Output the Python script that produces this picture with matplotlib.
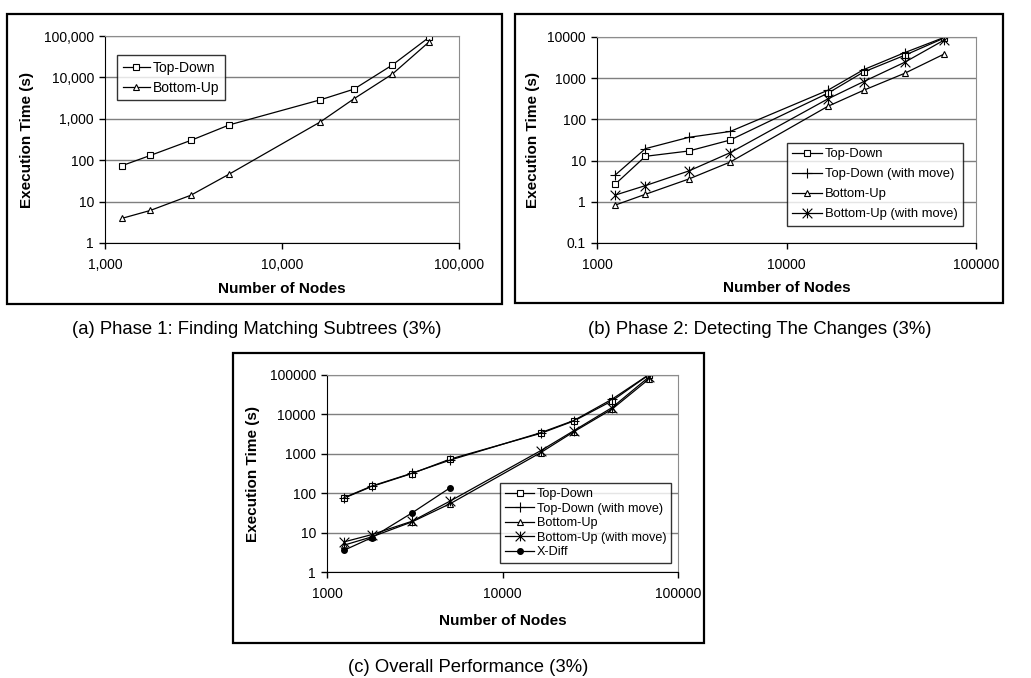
import numpy as np
import matplotlib
matplotlib.use('Agg')
import matplotlib.pyplot as plt
from matplotlib.path import Path
from matplotlib.patches import Rectangle

plt.rcParams['font.family'] = ['Liberation Sans', 'DejaVu Sans']

# data
nodes = [1250, 1800, 3050, 5050, 16500, 25500, 42000, 68000]

# (a) phase 1
p1_top_down = [74, 130, 300, 715, 2880, 5200, 19900, 94000]
p1_bottom_up = [3.95, 6.1, 14.2, 46.5, 846, 3050, 12000, 73000]

# (b) phase 2
p2_top_down = [2.7, 12.7, 17.1, 31.6, 430, 1410, 3590, 9460]
p2_top_down_move = [4.5, 19.5, 36.7, 51, 508, 1610, 4170, 9800]
p2_bottom_up = [0.835, 1.52, 3.57, 9.25, 207, 508, 1313, 3870]
p2_bottom_up_move = [1.46, 2.47, 5.6, 15.6, 313, 824, 2430, 8450]

# (c) overall
all_top_down = [75, 148, 316, 738, 3300, 6800, 21900, 100000]
all_top_down_move = [77, 152, 322, 696, 3430, 7000, 24200, 101000]
all_bottom_up = [4.8, 7.8, 18.7, 54.6, 1070, 3630, 13500, 77600]
all_bottom_up_move = [5.8, 8.9, 19.4, 63.8, 1200, 3860, 14800, 87700]
xdiff_nodes = [1250, 1800, 3050, 5050]
xdiff = [3.56, 7.46, 31.6, 139]

xticks = [1000, 10000, 100000]
xlabels_a = ['1,000', '10,000', '100,000']
xlabels_bc = ['1000', '10000', '100000']
yticks_a = [1, 10, 100, 1000, 10000, 100000]
ylabels_a = ['1', '10', '100', '1,000', '10,000', '100,000']
yticks_b = [0.1, 1, 10, 100, 1000, 10000]
ylabels_b = ['0.1', '1', '10', '100', '1000', '10000']
yticks_c = [1, 10, 100, 1000, 10000, 100000]
ylabels_c = ['1', '10', '100', '1000', '10000', '100000']

W, H = 1031, 678
fig = plt.figure(figsize=(W / 100, H / 100), dpi=100)


def px_axes(l, t, r, b):
    return fig.add_axes([l / W, 1 - b / H, (r - l) / W, (b - t) / H])


def frame(l, t, r, b):
    fig.add_artist(Rectangle((l / W, 1 - b / H), (r - l) / W, (b - t) / H,
                             transform=fig.transFigure, fill=False,
                             edgecolor='black', linewidth=1.6))


# asterisk marker like excel's star
star = Path([(-1, -1), (1, 1), (-1, 1), (1, -1), (0, 1), (0, -1)],
            [Path.MOVETO, Path.LINETO, Path.MOVETO, Path.LINETO, Path.MOVETO, Path.LINETO])


def style_axes(ax, yticks, ylabels, xlabels, ylim, xlab_y, ylab_x):
    ax.set_xscale('log')
    ax.set_yscale('log')
    ax.set_xlim(1000, 100000)
    ax.set_ylim(*ylim)
    ax.set_xticks(xticks)
    ax.set_xticklabels(xlabels)
    ax.set_yticks(yticks)
    ax.set_yticklabels(ylabels)
    ax.tick_params(which='minor', length=0, width=0)
    ax.tick_params(which='major', direction='out', length=4, width=1, labelsize=10, color='black')
    ax.tick_params(axis='x', pad=7)
    ax.tick_params(axis='y', pad=4)
    ax.grid(axis='y', which='major', color='#7f7f7f', linewidth=1)
    ax.set_axisbelow(True)
    for s in ['top', 'right']:
        ax.spines[s].set_color('#8c8c8c')
    for s in ['left', 'bottom']:
        ax.spines[s].set_color('black')
    ax.set_xlabel('Number of Nodes', fontsize=11, fontweight='bold')
    ax.set_ylabel('Execution Time (s)', fontsize=11, fontweight='bold')
    ax.xaxis.set_label_coords(0.5, xlab_y)
    ax.xaxis.label.set_va('center')
    ax.yaxis.set_label_coords(ylab_x, 0.5)
    ax.yaxis.label.set_va('center')


def legend_at(ax, l, t, size, spacing, hl):
    lg = ax.legend(loc='upper left', bbox_to_anchor=(l / W, 1 - t / H),
                   bbox_transform=fig.transFigure, borderaxespad=0,
                   fontsize=size, frameon=True, fancybox=False,
                   edgecolor='black', labelspacing=spacing,
                   handlelength=hl, handletextpad=0.2, borderpad=0.4)
    lg.get_frame().set_linewidth(1)
    return lg


mk = dict(color='black', linewidth=0.9, markerfacecolor='white', markeredgecolor='black',
          markeredgewidth=0.8)

# (a)
frame(7, 14, 502, 304)
ax1 = px_axes(105, 36, 459, 243)
ax1.plot(nodes, p1_top_down, marker='s', markersize=4.5, label='Top-Down', **mk)
ax1.plot(nodes, p1_bottom_up, marker='^', markersize=5, label='Bottom-Up', **mk)
style_axes(ax1, yticks_a, ylabels_a, xlabels_a, (1, 100000), -0.222, -0.220)
legend_at(ax1, 117, 55, 10, 0.45, 2.0)
fig.text(257 / W, 1 - 330 / H, '(a) Phase 1: Finding Matching Subtrees (3%)',
         ha='center', va='center', fontsize=13.3)

# (b)
frame(515, 14, 1003, 303)
ax2 = px_axes(597, 37, 976, 243)
ax2.plot(nodes, p2_top_down, marker='s', markersize=4.5, label='Top-Down', **mk)
ax2.plot(nodes, p2_top_down_move, marker='+', markersize=7, label='Top-Down (with move)', **mk)
ax2.plot(nodes, p2_bottom_up, marker='^', markersize=5, label='Bottom-Up', **mk)
ax2.plot(nodes, p2_bottom_up_move, marker=star, markersize=7, label='Bottom-Up (with move)', **mk)
style_axes(ax2, yticks_b, ylabels_b, xlabels_bc, (0.1, 10000), -0.218, -0.169)
legend_at(ax2, 787, 143, 9.4, 0.6, 2.3)
fig.text(760 / W, 1 - 330 / H, '(b) Phase 2: Detecting The Changes (3%)',
         ha='center', va='center', fontsize=13.3)

# (c)
frame(233, 353, 704, 643)
ax3 = px_axes(327, 375, 678, 572)
ax3.plot(nodes, all_top_down, marker='s', markersize=4.5, label='Top-Down', **mk)
ax3.plot(nodes, all_top_down_move, marker='+', markersize=7, label='Top-Down (with move)', **mk)
ax3.plot(nodes, all_bottom_up, marker='^', markersize=5, label='Bottom-Up', **mk)
ax3.plot(nodes, all_bottom_up_move, marker=star, markersize=7, label='Bottom-Up (with move)', **mk)
ax3.plot(xdiff_nodes, xdiff, marker='o', markersize=4, color='black', linewidth=0.9,
         markerfacecolor='black', markeredgecolor='black', label='X-Diff')
style_axes(ax3, yticks_c, ylabels_c, xlabels_bc, (1, 100000), -0.249, -0.211)
legend_at(ax3, 500, 483, 9.1, 0.2, 2.3)
fig.text(468 / W, 1 - 668 / H, '(c) Overall Performance (3%)',
         ha='center', va='center', fontsize=13.3)

fig.savefig('out.png', dpi=100)
